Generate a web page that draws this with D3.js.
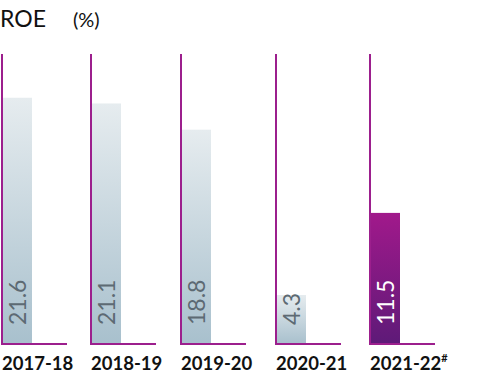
<!DOCTYPE html>
<html><head><meta charset="utf-8">
<script src="https://cdn.jsdelivr.net/npm/d3@7"></script>
<style>body{margin:0;background:#fff}svg{display:block}</style>
</head><body><div id="chart"></div>
<script>
const categories = ["2017-18","2018-19","2019-20","2020-21","2021-22"];
const values = [21.6, 21.1, 18.8, 4.3, 11.5];
const notes = ["","","","","#"];
const highlight = [false,false,false,false,true];

const W = 479, H = 378;
const svg = d3.select("#chart").append("svg").attr("width", W).attr("height", H);
const defs = svg.append("defs");
const g1 = defs.append("linearGradient").attr("id","gGrey").attr("x1",0).attr("y1",0).attr("x2",0).attr("y2",1);
g1.append("stop").attr("offset","0%").attr("stop-color","#e6ecef");
g1.append("stop").attr("offset","100%").attr("stop-color","#a8c0cd");
const g2 = defs.append("linearGradient").attr("id","gPurple").attr("x1",0).attr("y1",0).attr("x2",0).attr("y2",1);
g2.append("stop").attr("offset","0%").attr("stop-color","#a1198b");
g2.append("stop").attr("offset","100%").attr("stop-color","#5e1a78");

const xPos = [2, 91, 181, 276, 370];
const y = d3.scaleLinear().domain([0, 25]).range([344, 59]);
const axisTop = 54, barW = 29, baseW = 65;
const purple = "#9c1f8d";

svg.append("text").attr("x",0).attr("y",27).attr("font-family","Lato, 'Open Sans', sans-serif")
  .attr("font-size",23).attr("fill","#111").text("ROE");
svg.append("text").attr("x",73).attr("y",27).attr("font-family","Lato, 'Open Sans', sans-serif")
  .attr("font-size",20).attr("fill","#111").text("(%)");

categories.forEach((c,i)=>{
  const x0 = xPos[i];
  const gg = svg.append("g");
  gg.append("rect").attr("x",x0+1).attr("y",y(values[i])).attr("width",barW)
    .attr("height",y(0)-y(values[i])).attr("fill", highlight[i] ? "url(#gPurple)" : "url(#gGrey)");
  gg.append("line").attr("x1",x0).attr("x2",x0).attr("y1",axisTop).attr("y2",y(0)+1)
    .attr("stroke",purple).attr("stroke-width",2);
  gg.append("line").attr("x1",x0-1).attr("x2",x0+baseW).attr("y1",y(0)).attr("y2",y(0))
    .attr("stroke",purple).attr("stroke-width",2);
  gg.append("text")
    .attr("transform",`translate(${x0+1+barW/2+8},${y(0)-19}) rotate(-90)`)
    .attr("font-family","Lato, 'Open Sans', sans-serif").attr("font-weight",400)
    .attr("font-size",23).attr("fill", highlight[i] ? "#ffffff" : "#5d6a73")
    .text(values[i].toFixed(1));
  const t = gg.append("text").attr("x",x0).attr("y",370)
    .attr("font-family","Lato, 'Open Sans', sans-serif").attr("font-weight",700)
    .attr("font-size",18.5).attr("fill","#111").text(c);
  if (notes[i]) t.append("tspan").attr("font-size",11).attr("dy",-8).text(notes[i]);
});
</script></body></html>
